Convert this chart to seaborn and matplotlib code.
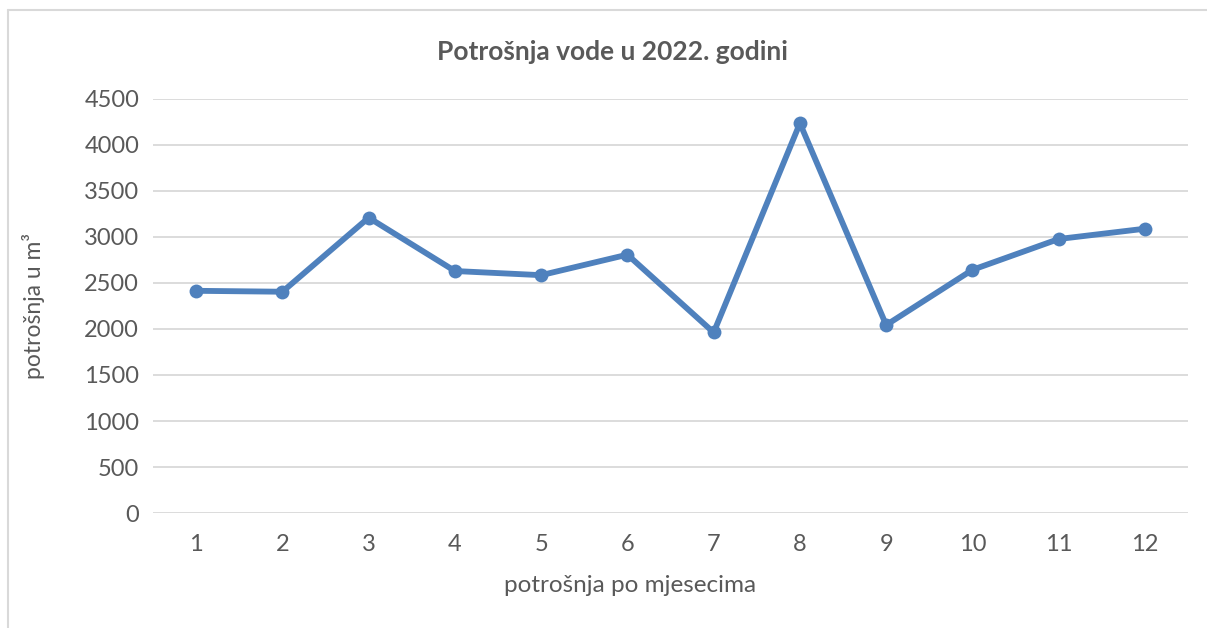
import matplotlib
matplotlib.use("Agg")
import matplotlib.pyplot as plt
import seaborn as sns
import pandas as pd
from matplotlib.lines import Line2D

months = [1, 2, 3, 4, 5, 6, 7, 8, 9, 10, 11, 12]
consumption = [2415, 2405, 3210, 2630, 2585, 2808, 1962, 4236, 2043, 2643, 2978, 3090]
yticks = [0, 500, 1000, 1500, 2000, 2500, 3000, 3500, 4000, 4500]

title = "Potrošnja vode u 2022. godini"
xlabel = "potrošnja po mjesecima"
ylabel = "potrošnja u m³"

sns.set_theme(style="white")
plt.rcParams['font.family'] = ['Lato', 'DejaVu Sans']

df = pd.DataFrame({"mjesec": months, "potrosnja": consumption})

fig = plt.figure(figsize=(12.07, 6.28), dpi=100)
ax = fig.add_axes([0.1268, 0.1831, 0.8575, 0.6593])

sns.lineplot(data=df, x="mjesec", y="potrosnja", ax=ax, color="#4F81BD",
             linewidth=4.2, marker="o", markersize=10, markeredgewidth=0,
             zorder=3)

ax.set_xlim(0.5, 12.5)
ax.set_ylim(0, 4500)
ax.set_yticks(yticks)
ax.set_xticks(months)
ax.set_xticklabels([str(m) for m in months])
ax.grid(axis="y", color="#D9D9D9", linewidth=1.3)
ax.grid(axis="x", visible=False)
for s in ax.spines.values():
    s.set_visible(False)
ax.tick_params(axis="both", length=0, labelsize=17, labelcolor="#595959")
ax.tick_params(axis="y", pad=10)
ax.tick_params(axis="x", pad=15)

fig.text(612/1207, 1 - 52/628, title, fontsize=19, fontweight="bold",
         color="#595959", ha="center", va="center")
ax.set_xlabel(xlabel, fontsize=17.5, color="#595959", va="center")
ax.xaxis.set_label_coords((630 - 153) / 1035, (513 - 585) / 414)
ax.set_ylabel(ylabel, fontsize=16.5, color="#595959", va="center")
ax.yaxis.set_label_coords((33 - 153) / 1035, 0.5)

# chart border (light gray) like the Excel chart frame
fig.add_artist(Line2D([8/1207, 8/1207], [0, 1 - 10/628], transform=fig.transFigure,
                      color="#D9D9D9", linewidth=1.5))
fig.add_artist(Line2D([8/1207, 1], [1 - 10/628, 1 - 10/628], transform=fig.transFigure,
                      color="#D9D9D9", linewidth=1.5))

fig.savefig("out.png", dpi=100, facecolor="white")
